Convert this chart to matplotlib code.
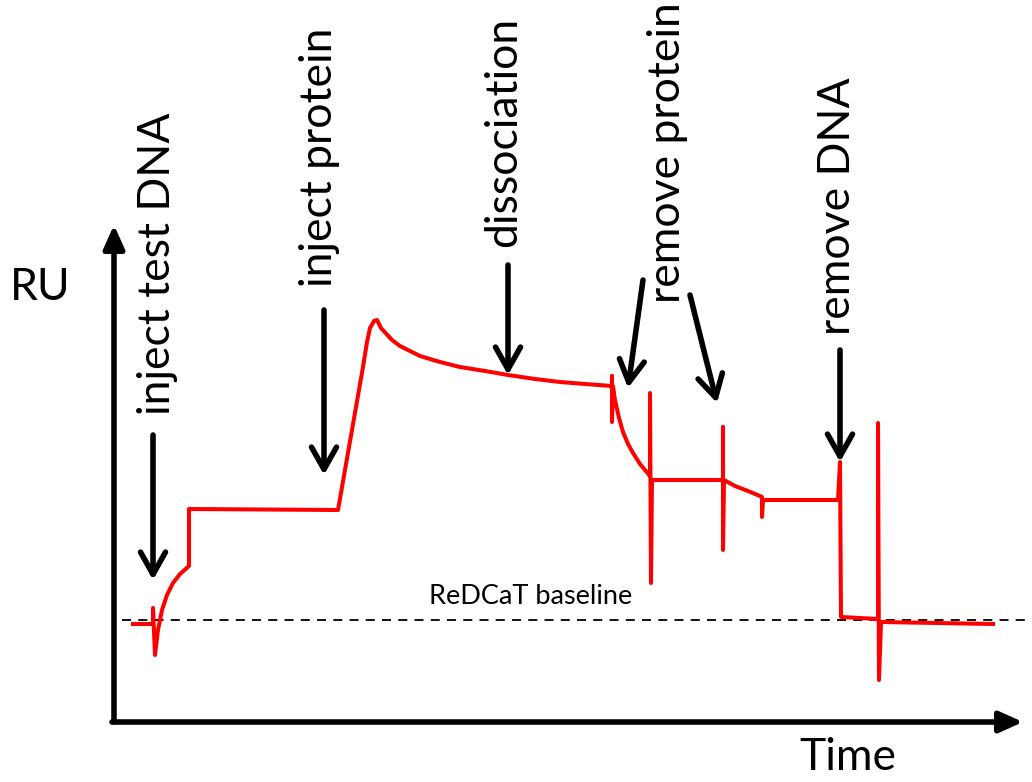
import matplotlib.pyplot as plt

plt.rcParams['font.family'] = ['Lato', 'DejaVu Sans']

# SPR sensorgram trace (time, RU)
time = [19, 39, 39, 41, 44, 48, 53, 59, 66, 75, 75, 224, 249, 253, 256, 260,
        263, 267, 278, 286, 306, 326, 346, 371, 394, 421, 446, 471, 498, 498,
        498, 499, 501, 505, 509, 514, 519, 526, 536, 536, 537, 538, 609, 609,
        609, 610, 621, 634, 646, 648, 648, 649, 724, 726, 727, 764, 764, 765,
        767, 879]
ru = [98, 98, 114, 67, 92, 112, 127, 139, 148, 156, 213, 212, 355, 380, 394,
      401, 402, 394, 382, 376, 366, 360, 355, 351, 347, 343, 340, 338, 336,
      346, 300, 336, 322, 304, 290, 278, 269, 258, 246, 329, 139, 242, 242,
      295, 172, 242, 236, 231, 226, 225, 205, 222, 222, 260, 105, 103, 299,
      42, 100, 98]

baseline_ru = 102
baseline_t = [8, 916]

# annotation labels: text, text anchor (t, ru), arrow start, arrow tip
labels = ['inject test DNA', 'inject protein', 'dissociation',
          'remove protein', 'remove DNA']
label_pos = [(43, 307), (206, 435), (390, 475), (553, 419), (724, 387)]
arrows = [((39, 287), (39, 142)),
          ((210, 412), (210, 247)),
          ((394, 457), (394, 347)),
          ((529, 442), (514, 334)),
          ((576, 427), (603, 319)),
          ((726, 372), (726, 260))]

fig = plt.figure(figsize=(10.32, 7.82), dpi=100)
ax = fig.add_axes([0, 0, 1, 1])
ax.set_xlim(-114, 918)
ax.set_ylim(-60, 722)
ax.axis('off')

# axes drawn as arrows
ax.annotate('', xy=(0, 497), xytext=(0, 0),
            arrowprops=dict(arrowstyle='-|>,head_length=1.0,head_width=0.45',
                            lw=4, color='black', mutation_scale=14,
                            shrinkA=0, shrinkB=0))
ax.annotate('', xy=(909, 0), xytext=(-2, 0),
            arrowprops=dict(arrowstyle='-|>,head_length=1.0,head_width=0.45',
                            lw=4, color='black', mutation_scale=14,
                            shrinkA=0, shrinkB=0))

ax.plot(baseline_t, [baseline_ru, baseline_ru], color='black', lw=1.3,
        ls=(0, (5, 4)))
ax.text(417, 126, 'ReDCaT baseline', fontsize=19.5, ha='center', va='center')

ax.plot(time, ru, color='#ff0000', lw=2.9, solid_joinstyle='round')

for txt, (x, y) in zip(labels, label_pos):
    ax.text(x, y, txt, fontsize=32, rotation=90, rotation_mode='anchor',
            ha='left', va='center')

for start, tip in arrows:
    ax.annotate('', xy=tip, xytext=start,
                arrowprops=dict(arrowstyle='->,head_length=0.8,head_width=0.45',
                                lw=4, color='black', mutation_scale=20,
                                shrinkA=0, shrinkB=0))

ax.text(-74, 435, 'RU', fontsize=32, ha='center', va='center')
ax.text(734, -36, 'Time', fontsize=32, ha='center', va='center')

fig.savefig('out.png', dpi=100)
